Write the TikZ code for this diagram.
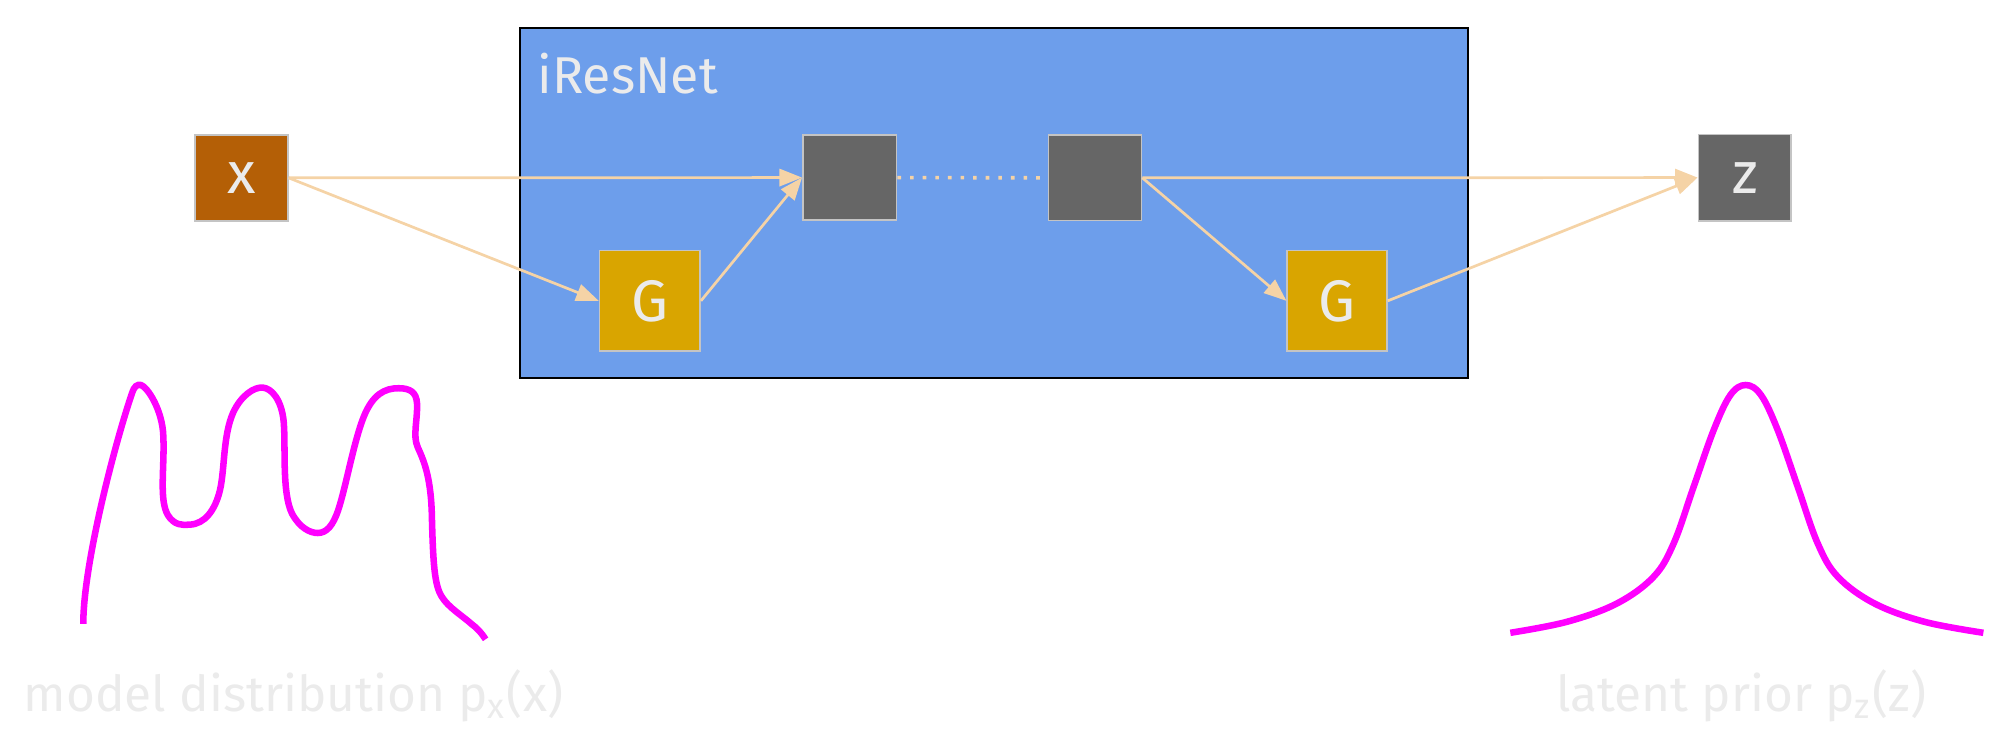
\documentclass[tikz,border=0pt]{standalone}
\usepackage{fontspec}
\setmainfont{Fira Sans}
\usetikzlibrary{arrows.meta}
\definecolor{netblue}{HTML}{6D9EEB}
\definecolor{xbrown}{HTML}{B45F06}
\definecolor{ggold}{HTML}{D9A500}
\definecolor{dgray}{HTML}{666666}
\definecolor{peach}{HTML}{F5D3A6}
\definecolor{lighttext}{HTML}{EBEBEB}
\definecolor{nodeborder}{HTML}{C4C4C4}
\definecolor{magentaline}{HTML}{FF00FF}
\tikzset{
  blk/.style={draw=nodeborder, line width=0.35pt, inner sep=0pt, text=lighttext,
    font=\fontsize{13}{15}\selectfont},
  conn/.style={draw=peach, line width=0.6pt, -{Triangle[length=5pt,width=3.8pt]}},
  dotconn/.style={draw=peach, line width=0.8pt, dash pattern=on 0.8pt off 2pt},
  density/.style={draw=magentaline, line width=1.45pt},
  lbl/.style={text=lighttext, inner sep=0pt, font=\fontsize{11}{13}\selectfont},
}
\begin{document}
\begin{tikzpicture}[x=0.01cm, y=-0.01cm]
\useasboundingbox (0,0) rectangle (1568,588);
% iResNet container
\draw[fill=netblue, draw=black, line width=0.45pt] (406,22) rectangle (1146,295);
\node[lbl, anchor=base west, font=\fontsize{11.5}{13}\selectfont] (title) at (419,73) {iResNet};
% nodes
\node[blk, fill=xbrown, minimum width=0.726cm, minimum height=0.669cm] (xn) at (188.3,138.8) {x};
\node[blk, fill=ggold, minimum width=0.785cm, minimum height=0.783cm] (g1) at (507.2,234.8) {G};
\node[blk, fill=dgray, minimum width=0.732cm, minimum height=0.663cm] (d1) at (663.2,138.6) {};
\node[blk, fill=dgray, minimum width=0.725cm, minimum height=0.665cm] (d2) at (854.7,138.8) {};
\node[blk, fill=ggold, minimum width=0.778cm, minimum height=0.783cm] (g2) at (1043.6,234.8) {G};
\node[blk, fill=dgray, minimum width=0.725cm, minimum height=0.674cm] (zn) at (1361.8,138.6) {z};
% connectors
\draw[conn] (xn.east) -- (d1.west);
\draw[conn] (xn.east) -- (g1.west);
\draw[conn] (g1.east) -- (d1.west);
\draw[dotconn] (d1.east) -- (d2.west);
\draw[conn] (d2.east) -- (zn.west);
\draw[conn] (d2.east) -- (g2.west);
\draw[conn] (g2.east) -- (zn.west);
% model distribution curve
\draw[density] (65,487)
  .. controls (65,440) and (90,345) .. (103,307)
  .. controls (105,301) and (107,300) .. (110,300.5)
  .. controls (115,302) and (127,320) .. (127.5,341)
  .. controls (128.5,365) and (124,390) .. (131,402)
  .. controls (136,410) and (142,410) .. (148,409.5)
  .. controls (160,409) and (168,398) .. (171.7,382.5)
  .. controls (175.5,366) and (174,340) .. (182,322)
  .. controls (188,309) and (198,302) .. (205,302.5)
  .. controls (212,303) and (220,312) .. (221.5,330)
  .. controls (223,350) and (220,385) .. (228,401)
  .. controls (234,412) and (242,416) .. (248,416)
  .. controls (255,416) and (260,410) .. (264,398)
  .. controls (270,380) and (276,345) .. (284,325)
  .. controls (291,308) and (300,303) .. (311,303)
  .. controls (320,303) and (325,306) .. (325.5,315)
  .. controls (326,328) and (322,340) .. (326,349)
  .. controls (330,358) and (336,370) .. (337,400)
  .. controls (338,440) and (339,457) .. (345,466)
  .. controls (350,474) and (360,480) .. (368,487)
  .. controls (372,490) and (376,494) .. (379,499);
% latent prior curve
\draw[density] plot[smooth, tension=0.6] coordinates {
 (1178.8,493.9) (1223,485.3) (1262,471) (1290.6,450.2) (1306.3,424.1) (1321.9,379.9)
 (1337.5,335.7) (1350.5,308.4) (1362.5,300.5) (1374.5,308.4) (1387.5,335.7)
 (1403.1,379.9) (1418.7,424.1) (1434.4,450.2) (1463,471) (1502,485.3) (1548,493.9)};
% labels
\node[lbl, anchor=base] (lblx) at (229,555) {model distribution p\textsubscript{x}(x)};
\node[lbl, anchor=base] (lblz) at (1359,555) {latent prior p\textsubscript{z}(z)};
\end{tikzpicture}
\end{document}
